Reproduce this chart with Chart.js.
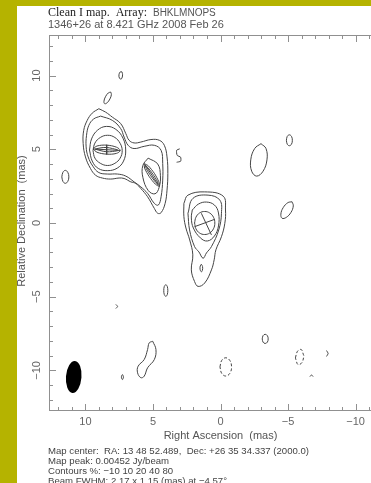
<!DOCTYPE html>
<html>
<head>
<meta charset="utf-8">
<script src="https://cdn.jsdelivr.net/npm/chart.js@4.4.1/dist/chart.umd.min.js"></script>
<style>
  html, body { margin: 0; padding: 0; background: #fff; overflow: hidden; width: 371px; height: 483px; }
  #wrap { position: relative; width: 371px; height: 483px; overflow: hidden; background: #fff; }
  #map { position: absolute; left: 0; top: 0; }
  .band { position: absolute; background: #b5b300; z-index: 2; }
</style>
</head>
<body>
<div id="wrap">
  <canvas id="map" width="420" height="483"></canvas>
  <div class="band" style="left:0;top:0;width:17px;height:483px"></div>
  <div class="band" style="left:0;top:0;width:371px;height:6px"></div>
</div>
<script>
// ---- map header / footer values ----
const SOURCE = '1346+26';
const FREQ_GHZ = '8.421';
const OBS_DATE = '2008 Feb 26';
const ARRAY_NAME = 'BHKLMNOPS';
const MAP_CENTER = 'RA: 13 48 52.489,  Dec: +26 35 34.337 (2000.0)';
const MAP_PEAK = '0.00452';
const CONTOUR_LEVELS = [-10, 10, 20, 40, 80];
const BEAM_FWHM = [2.17, 1.15];      // major, minor (mas)
const BEAM_PA = -4.57;               // degrees
const BEAM_POS = [10.87, -10.44];    // RA, Dec offset of the beam marker (mas)

// ---- axes ----
const RA_RANGE = [-12.7, 12.7];
const DEC_RANGE = [-12.75, 12.75];
const RA_TICKS = [10, 5, 0, -5, -10];
const DEC_TICKS = [10, 5, 0, -5, -10];

// ---- contours (RA offset, Dec offset in mas) ----
// north-east pair of components, 10% and 20% levels
const abLevel10 = [[9.01,7.75],[8.51,7.52],[8.01,7.18],[7.39,6.74],[7.01,6.06],[6.77,5.61],[6.40,5.43],[5.90,5.49],[5.15,5.66],[4.53,5.61],[4.16,5.27],[3.96,4.48],[3.90,3.36],[3.96,2.23],[4.10,1.33],[4.40,0.70],[4.65,0.66],[4.90,0.99],[5.40,1.78],[5.90,2.34],[6.27,2.68],[6.64,2.79],[7.14,3.02],[7.51,3.05],[8.13,2.98],[8.75,3.05],[9.25,3.24],[9.63,3.70],[10.00,4.48],[10.17,5.39],[10.13,6.28],[9.87,6.96],[9.50,7.45]];
const abLevel20 = [[8.88,7.25],[8.01,6.96],[7.39,6.40],[7.14,5.83],[6.84,5.27],[6.40,5.05],[5.65,5.20],[4.90,5.27],[4.40,4.93],[4.28,4.03],[4.28,2.91],[4.40,1.78],[4.60,1.22],[4.90,1.33],[5.40,2.01],[5.90,2.45],[6.40,2.79],[7.01,3.18],[7.63,3.32],[8.38,3.32],[9.01,3.42],[9.45,3.85],[9.80,4.48],[9.95,5.16],[9.92,5.95],[9.75,6.62],[9.40,7.05]];
const aLevel40 = [[9.70,4.95],[9.55,5.70],[9.10,6.30],[8.45,6.55],[7.75,6.35],[7.22,5.75],[7.02,4.95],[7.18,4.20],[7.65,3.72],[8.35,3.55],[9.05,3.70],[9.50,4.20]];
const aLevel80 = [[9.44,4.90],[9.30,5.42],[8.90,5.80],[8.36,5.95],[7.82,5.80],[7.43,5.40],[7.28,4.90],[7.43,4.40],[7.82,4.05],[8.36,3.90],[8.90,4.05],[9.30,4.40]];
const aModelOuter = [[9.43,5.02],[9.15,5.22],[8.43,5.28],[7.70,5.14],[7.43,4.92],[7.71,4.72],[8.43,4.67],[9.15,4.80]];
const aModelInner = [[9.28,5.01],[8.85,5.10],[8.43,5.12],[8.00,5.05],[7.58,4.93],[8.00,4.85],[8.43,4.83],[8.85,4.90]];
const aAxisMajor = [[9.45,5.02],[7.42,4.92]];
const aAxisMinor = [[8.43,5.30],[8.43,4.65]];
const bLevel40 = [[5.36,4.40],[4.65,4.00],[4.45,3.20],[4.55,2.40],[4.85,1.98],[5.35,2.20],[5.75,3.10],[5.75,3.90]];
const bModelOuter = [[5.65,4.03],[5.35,3.88],[4.90,3.37],[4.57,2.80],[4.53,2.49],[4.83,2.64],[5.28,3.15],[5.62,3.72]];
const bModelInner = [[5.57,3.91],[5.37,3.75],[5.005,3.31],[4.69,2.84],[4.61,2.61],[4.81,2.77],[5.175,3.21],[5.49,3.68]];
const bAxis = [[5.60,3.98],[4.58,2.54]];

// core component near the map centre
const cLevel10 = [[2.71,1.33],[2.41,1.89],[1.17,2.11],[-0.20,1.82],[-0.37,0.88],[-0.32,-0.02],[-0.07,-0.93],[0.34,-1.82],[0.47,-2.50],[0.67,-3.18],[1.17,-4.07],[1.66,-4.30],[1.92,-3.97],[2.16,-3.18],[2.05,-2.16],[2.28,-1.15],[2.56,-0.34],[2.71,0.43]];
const cLevel20 = [[2.41,0.66],[2.04,1.67],[0.92,1.89],[0.05,1.55],[-0.07,0.66],[0.13,-0.47],[0.67,-1.60],[1.04,-2.03],[1.29,-2.39],[1.60,-1.96],[1.92,-1.60],[2.29,-0.47]];
const cLevel40 = [[2.09,0.88],[1.64,1.28],[1.04,1.42],[0.45,1.22],[0.15,0.68],[0.15,-0.20],[0.45,-0.88],[0.97,-1.22],[1.49,-1.01],[2.01,-0.34],[2.16,0.34]];
const cLevel80 = [[1.92,0.00],[1.82,0.39],[1.55,0.68],[1.17,0.78],[0.80,0.68],[0.52,0.39],[0.42,0.00],[0.52,-0.39],[0.80,-0.68],[1.17,-0.78],[1.55,-0.68],[1.82,-0.39]];
const cAxisA = [[1.92,-0.25],[0.43,0.25]];
const cAxisB = [[1.42,0.66],[0.67,-0.81]];
const cTailSpot = [[1.42,-2.80],[1.33,-2.95],[1.34,-3.20],[1.42,-3.31],[1.51,-3.15],[1.50,-2.92]];

// isolated 10% islands
const isl1 = [[7.30,10.25],[7.25,10.05],[7.33,9.78],[7.47,9.80],[7.52,10.05],[7.42,10.25]];
const isl2 = [[8.13,8.88],[8.08,8.71],[8.19,8.41],[8.40,8.15],[8.58,8.09],[8.63,8.26],[8.52,8.56],[8.31,8.82]];
const isl3 = [[11.75,3.13],[11.67,3.44],[11.49,3.57],[11.31,3.44],[11.23,3.13],[11.31,2.82],[11.49,2.69],[11.67,2.82]];
const isl4 = [[-3.00,5.38],[-2.53,5.05],[-2.24,4.28],[-2.31,3.51],[-2.68,3.18],[-3.15,3.51],[-3.44,4.28],[-3.37,5.05]];
const isl5 = [[-4.88,5.61],[-4.94,5.87],[-5.10,5.98],[-5.26,5.87],[-5.32,5.61],[-5.26,5.35],[-5.10,5.24],[-4.94,5.35]];
const isl6 = [[-5.30,1.44],[-5.39,1.16],[-5.22,0.72],[-4.87,0.38],[-4.56,0.32],[-4.47,0.60],[-4.64,1.04],[-4.99,1.38]];
const isl7 = [[3.90,-4.58],[3.94,-4.30],[4.05,-4.19],[4.16,-4.30],[4.20,-4.58],[4.16,-4.86],[4.05,-4.97],[3.94,-4.86]];
const isl8 = [[5.02,-8.02],[4.78,-8.58],[4.90,-9.26],[5.40,-9.82],[5.65,-10.39],[5.90,-10.49],[6.14,-10.16],[6.10,-9.71],[5.65,-9.26],[5.40,-8.58],[5.28,-8.13]];
const isl9 = [[7.18,-10.45],[7.26,-10.28],[7.34,-10.45],[7.26,-10.62]];
const isl10 = [[-3.09,-7.86],[-3.15,-7.64],[-3.31,-7.55],[-3.47,-7.64],[-3.53,-7.86],[-3.47,-8.08],[-3.31,-8.17],[-3.15,-8.08]];
// open fragments
const frag1 = [[3.02,5.03],[3.25,4.93],[3.21,4.59],[2.95,4.46],[2.95,4.19],[3.25,4.12]];
const frag2 = [[7.75,-5.52],[7.62,-5.66],[7.75,-5.80]];
const frag3 = [[-7.85,-8.65],[-7.97,-8.85],[-7.85,-9.05]];
const frag4 = [[-6.62,-10.42],[-6.74,-10.30],[-6.86,-10.42]];
// negative (-10%) contours
const neg1 = [[0.04,-9.76],[-0.09,-9.32],[-0.39,-9.14],[-0.69,-9.32],[-0.82,-9.76],[-0.69,-10.20],[-0.39,-10.38],[-0.09,-10.20]];
const neg2 = [[-5.55,-9.15],[-5.70,-8.70],[-5.98,-8.58],[-6.13,-8.90],[-6.17,-9.03],[-6.02,-9.48],[-5.74,-9.60],[-5.59,-9.28]];

// [points, level %, closed ring?, tension]
const contourList = [
  [abLevel10, 10, true, 0.4], [abLevel20, 20, true, 0.4], [aLevel40, 40, true, 0.4], [aLevel80, 80, true, 0.4],
  [aModelOuter, 80, true, 0.35], [aModelInner, 80, true, 0.35], [aAxisMajor, 80, false, 0], [aAxisMinor, 80, false, 0],
  [bLevel40, 40, true, 0.4], [bModelOuter, 80, true, 0.25], [bModelInner, 80, true, 0.2], [bAxis, 80, false, 0],
  [cLevel10, 10, true, 0.4], [cLevel20, 20, true, 0.4], [cLevel40, 40, true, 0.4], [cLevel80, 80, true, 0.4],
  [cAxisA, 80, false, 0], [cAxisB, 80, false, 0], [cTailSpot, 10, true, 0.4],
  [isl1, 10, true, 0.4], [isl2, 10, true, 0.4], [isl3, 10, true, 0.4], [isl4, 10, true, 0.4], [isl5, 10, true, 0.4],
  [isl6, 10, true, 0.4], [isl7, 10, true, 0.4], [isl8, 10, true, 0.4], [isl9, 10, true, 0.4], [isl10, 10, true, 0.4],
  [frag1, 10, false, 0.2], [frag2, 10, false, 0.2], [frag3, 10, false, 0.2], [frag4, 10, false, 0.2],
  [neg1, -10, true, 0.4], [neg2, -10, true, 0.4]
];

const datasets = contourList.map(([pts, level, closed, tension]) => {
  const ring = closed ? pts.concat([pts[0]]) : pts;
  return {
    data: ring.map(p => ({ x: p[0], y: p[1] })),
    showLine: true,
    fill: false,
    pointRadius: 0,
    pointHoverRadius: 0,
    borderColor: '#444',
    borderWidth: 1,
    borderDash: level < 0 ? [3, 2] : [],
    tension
  };
});

const fmtNum = v => (v < 0 ? '\u2212' + Math.abs(v) : String(v));

const mapDecor = {
  id: 'mapDecor',
  afterDraw(chart) {
    const { ctx, chartArea: a } = chart;
    const xs = chart.scales.x, ys = chart.scales.y;
    ctx.save();

    // restoring beam
    const bx = xs.getPixelForValue(BEAM_POS[0]);
    const by = ys.getPixelForValue(BEAM_POS[1]);
    const ux = Math.abs(xs.getPixelForValue(1) - xs.getPixelForValue(0));
    const uy = Math.abs(ys.getPixelForValue(1) - ys.getPixelForValue(0));
    ctx.beginPath();
    ctx.ellipse(bx, by, BEAM_FWHM[1] / 2 * ux, BEAM_FWHM[0] / 2 * uy, -BEAM_PA * Math.PI / 180, 0, Math.PI * 2);
    ctx.fillStyle = '#000';
    ctx.fill();

    // frame
    ctx.strokeStyle = '#909090';
    ctx.lineWidth = 1;
    ctx.strokeRect(a.left + 0.5, a.top + 0.5, a.right - a.left - 1, a.bottom - a.top - 1);

    // inward tick marks, 1 mas minor / 5 mas major
    ctx.beginPath();
    for (let v = Math.ceil(RA_RANGE[0]); v <= Math.floor(RA_RANGE[1]); v++) {
      const len = v % 5 === 0 ? 7 : 4;
      const px = Math.round(xs.getPixelForValue(v)) + 0.5;
      ctx.moveTo(px, a.bottom); ctx.lineTo(px, a.bottom - len);
      ctx.moveTo(px, a.top); ctx.lineTo(px, a.top + len);
    }
    for (let v = Math.ceil(DEC_RANGE[0]); v <= Math.floor(DEC_RANGE[1]); v++) {
      const len = v % 5 === 0 ? 7 : 4;
      const py = Math.round(ys.getPixelForValue(v)) + 0.5;
      ctx.moveTo(a.left, py); ctx.lineTo(a.left + len, py);
      ctx.moveTo(a.right, py); ctx.lineTo(a.right - len, py);
    }
    ctx.stroke();

    // tick labels
    ctx.fillStyle = '#666';
    ctx.font = '11px "Liberation Sans", Arial, sans-serif';
    ctx.textAlign = 'center';
    ctx.textBaseline = 'middle';
    RA_TICKS.forEach(v => ctx.fillText(fmtNum(v), xs.getPixelForValue(v), a.bottom + 11));
    DEC_TICKS.forEach(v => {
      ctx.save();
      ctx.translate(a.left - 12, ys.getPixelForValue(v));
      ctx.rotate(-Math.PI / 2);
      ctx.fillText(fmtNum(v), 0, 0);
      ctx.restore();
    });

    // axis titles
    ctx.fillStyle = '#555';
    ctx.fillText('Right Ascension  (mas)', xs.getPixelForValue(0), a.bottom + 25);
    ctx.save();
    ctx.translate(a.left - 27, (a.top + a.bottom) / 2 - 2);
    ctx.rotate(-Math.PI / 2);
    ctx.fillText('Relative Declination  (mas)', 0, 0);
    ctx.restore();

    // header
    ctx.textAlign = 'left';
    let hx = 48;
    ctx.fillStyle = '#222';
    ctx.font = '12px "Liberation Serif", "Times New Roman", serif';
    const part1 = 'Clean I map.  Array:  ';
    ctx.fillText(part1, hx, 13);
    hx += ctx.measureText(part1).width;
    ctx.fillStyle = '#555';
    ctx.font = '10px "Liberation Sans", Arial, sans-serif';
    ctx.fillText(ARRAY_NAME, hx, 13);
    ctx.font = '11px "Liberation Sans", Arial, sans-serif';
    ctx.fillText(SOURCE + ' at ' + FREQ_GHZ + ' GHz ' + OBS_DATE, 48, 25);

    // footer
    ctx.fillStyle = '#444';
    ctx.font = '9.6px "Liberation Sans", Arial, sans-serif';
    const lines = [
      'Map center:  ' + MAP_CENTER,
      'Map peak: ' + MAP_PEAK + ' Jy/beam',
      'Contours %: ' + CONTOUR_LEVELS.map(fmtNum).join(' '),
      'Beam FWHM: ' + BEAM_FWHM[0].toFixed(2) + ' x ' + BEAM_FWHM[1].toFixed(2) + ' (mas) at ' + fmtNum(BEAM_PA) + '\u00b0'
    ];
    lines.forEach((t, i) => ctx.fillText(t, 48, 451 + i * 10.2));
    ctx.restore();
  }
};

new Chart(document.getElementById('map'), {
  type: 'scatter',
  data: { datasets },
  options: {
    responsive: false,
    animation: false,
    events: [],
    layout: { padding: { left: 49, top: 35, right: 28, bottom: 72 } },
    plugins: { legend: { display: false }, tooltip: { enabled: false } },
    scales: {
      x: { type: 'linear', min: RA_RANGE[0], max: RA_RANGE[1], reverse: true, display: false },
      y: { type: 'linear', min: DEC_RANGE[0], max: DEC_RANGE[1], display: false }
    }
  },
  plugins: [mapDecor]
});
</script>
</body>
</html>
